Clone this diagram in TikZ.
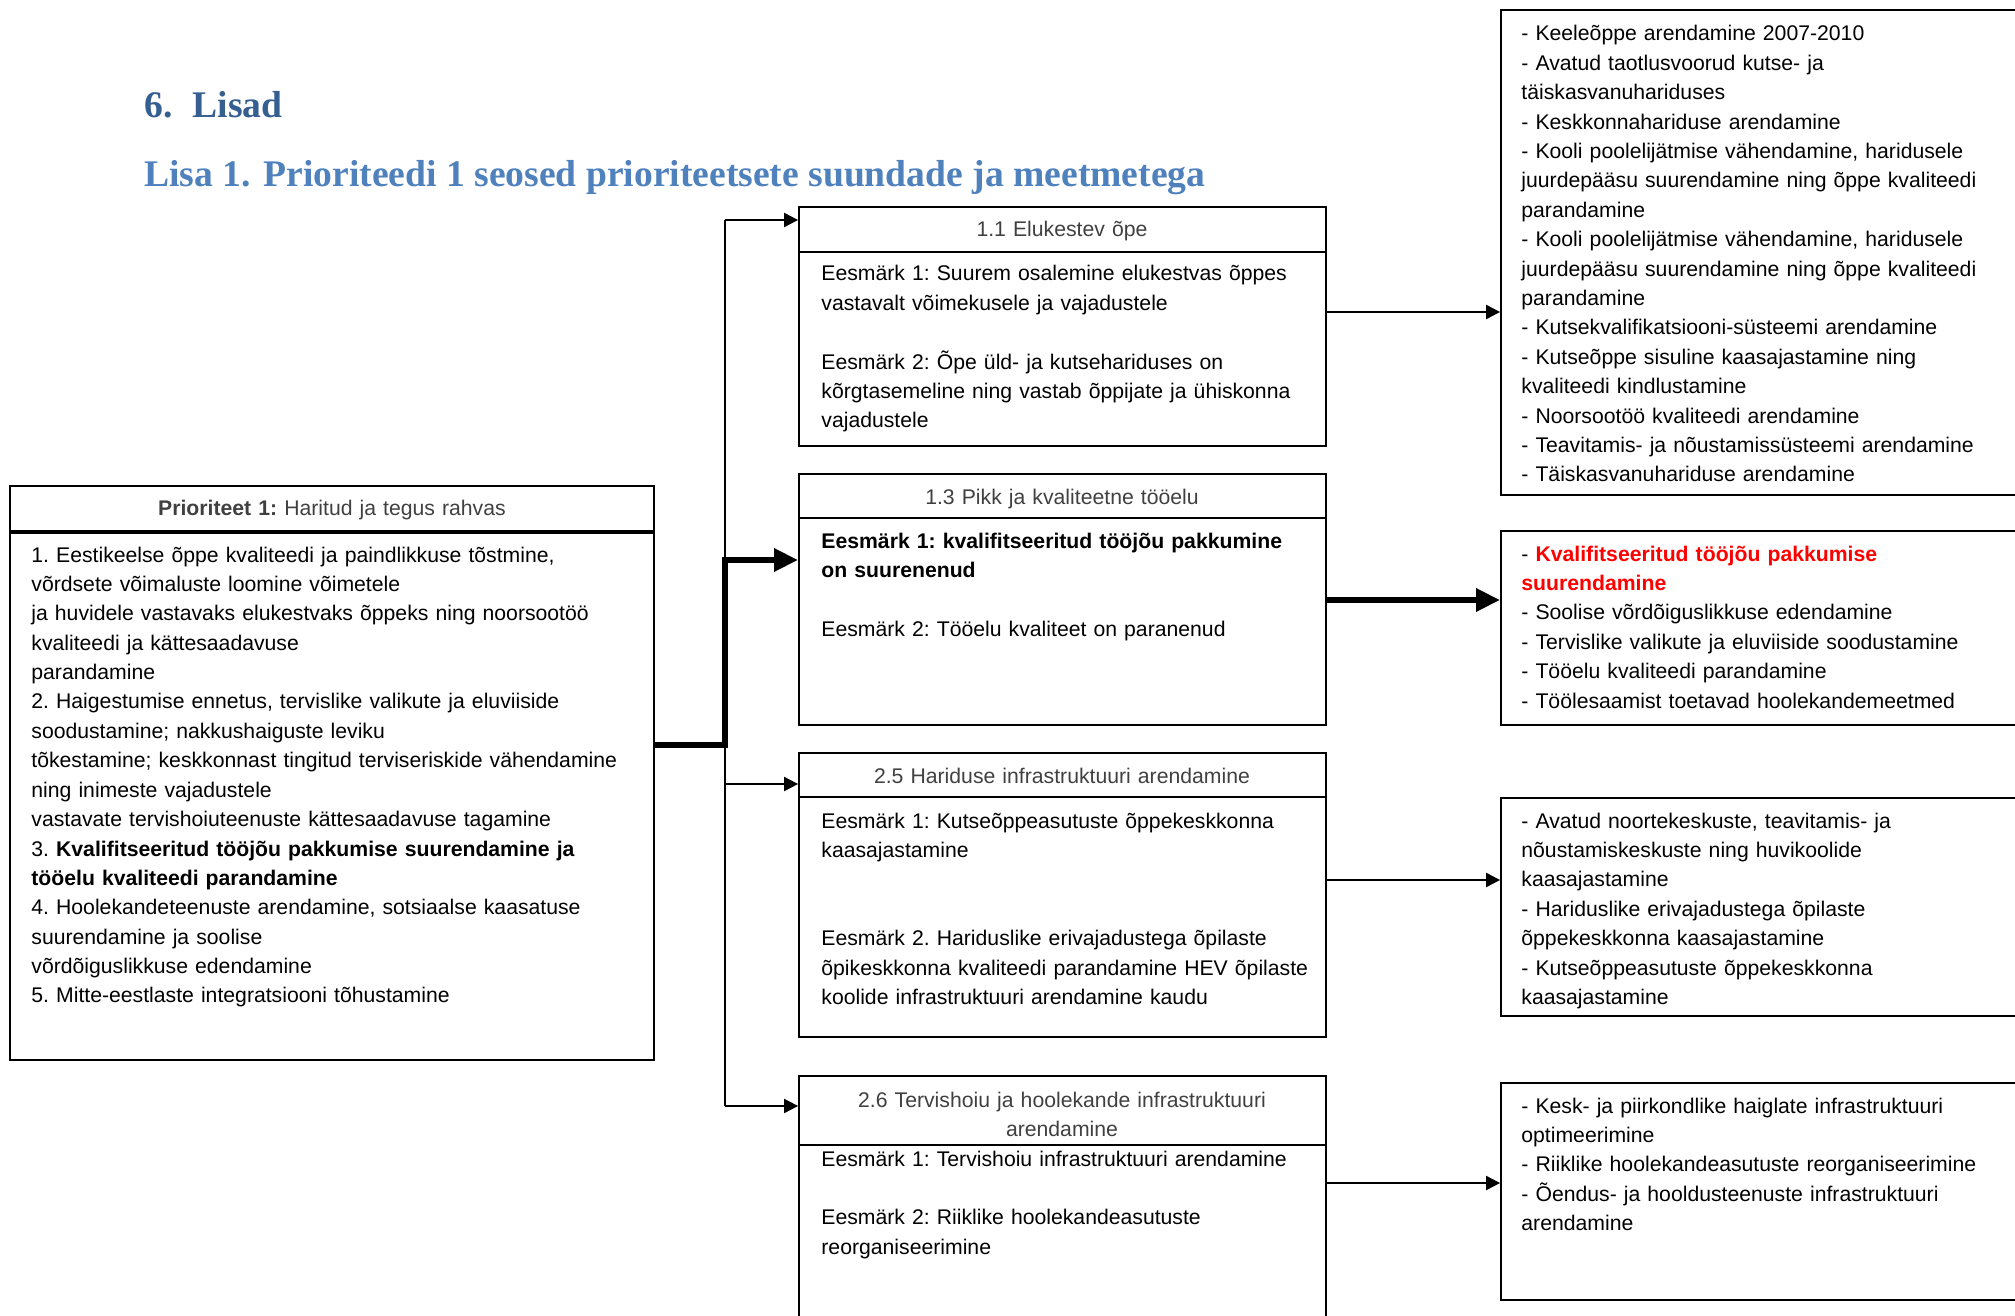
\documentclass[tikz,border=0pt]{standalone}
\usepackage{fontspec}
\setmainfont{Liberation Sans}
\newfontfamily\titlefont{Liberation Serif}
\usetikzlibrary{arrows.meta,fit}
\definecolor{headblue}{RGB}{54,95,145}
\definecolor{subblue}{RGB}{79,129,189}
\definecolor{hdrgray}{RGB}{64,64,64}
\definecolor{markred}{RGB}{255,0,0}
\newcommand{\boxfont}{\fontsize{10.6}{14.7}\selectfont\frenchspacing}

\begin{document}
\begin{tikzpicture}[x=0.5pt,y=-0.5pt,
    frame/.style={draw, line width=0.9pt, inner sep=0pt},
    hdr/.style={anchor=base, inner sep=0pt, font=\boxfont, text=hdrgray, align=center, text width=255pt},
    txt/.style={anchor=base west, inner sep=0pt, align=left, font=\boxfont, text width=255pt},
    arr/.style={-{Triangle[length=7pt,width=7pt]}, line width=1pt},
    fatarr/.style={-{Triangle[length=12pt,width=11pt]}, line width=3pt}]
    \clip (0,0) rectangle (2015,1316);

    % titles
    \node[anchor=base west, inner sep=0pt, text=headblue,
          font=\titlefont\bfseries\fontsize{18.8}{22}\selectfont] (lisad) at (144,118) {6.\hspace{10pt}Lisad};
    \node[anchor=base west, inner sep=0pt, text=subblue,
          font=\titlefont\bfseries\fontsize{18.8}{22}\selectfont] (lisa1) at (144,187) {Lisa 1. Prioriteedi 1 seosed prioriteetsete suundade ja meetmetega};

    % priority box
    \node[frame, fit={(10,486) (654,531)}] (prioh) {};
    \node[frame, fit={(10,531) (654,1060)}] (prio) {};
    \draw[line width=1.8pt] (prioh.south west) -- (prioh.south east);
    \node[hdr, text width=310pt] (prioht) at (332,516) {\textbf{Prioriteet 1:} Haritud ja tegus rahvas};
    \node[txt, text width=310pt] (priot) at (31,562) {1. Eestikeelse õppe kvaliteedi ja paindlikkuse tõstmine,\\
        võrdsete võimaluste loomine võimetele\\
        ja huvidele vastavaks elukestvaks õppeks ning noorsootöö\\
        kvaliteedi ja kättesaadavuse\\
        parandamine\\
        2. Haigestumise ennetus, tervislike valikute ja eluviiside\\
        soodustamine; nakkushaiguste leviku\\
        tõkestamine; keskkonnast tingitud terviseriskide vähendamine\\
        ning inimeste vajadustele\\
        vastavate tervishoiuteenuste kättesaadavuse tagamine\\
        3. \textbf{Kvalifitseeritud tööjõu pakkumise suurendamine ja}\\
        \textbf{tööelu kvaliteedi parandamine}\\
        4. Hoolekandeteenuste arendamine, sotsiaalse kaasatuse\\
        suurendamine ja soolise\\
        võrdõiguslikkuse edendamine\\
        5. Mitte-eestlaste integratsiooni tõhustamine};

    % middle column
    \node[frame, fit={(799,207) (1326,252)}] (m11h) {};
    \node[frame, fit={(799,252) (1326,446)}] (m11) {};
    \node[hdr] (m11ht) at (1062,237) {1.1 Elukestev õpe};
    \node[txt] (m11t) at (821,281) {Eesmärk 1: Suurem osalemine elukestvas õppes\\
        vastavalt võimekusele ja vajadustele\\[14.7pt]
        Eesmärk 2: Õpe üld- ja kutsehariduses on\\
        kõrgtasemeline ning vastab õppijate ja ühiskonna\\
        vajadustele};

    \node[frame, fit={(799,474) (1326,518)}] (m13h) {};
    \node[frame, fit={(799,518) (1326,725)}] (m13) {};
    \node[hdr] (m13ht) at (1062,504) {1.3 Pikk ja kvaliteetne tööelu};
    \node[txt] (m13t) at (821,548) {\textbf{Eesmärk 1: kvalifitseeritud tööjõu pakkumine}\\
        \textbf{on suurenenud}\\[14.7pt]
        Eesmärk 2: Tööelu kvaliteet on paranenud};

    \node[frame, fit={(799,753) (1326,797)}] (m25h) {};
    \node[frame, fit={(799,797) (1326,1037)}] (m25) {};
    \node[hdr] (m25ht) at (1062,783) {2.5 Hariduse infrastruktuuri arendamine};
    \node[txt] (m25t) at (821,828) {Eesmärk 1: Kutseõppeasutuste õppekeskkonna\\
        kaasajastamine\\[29.4pt]
        Eesmärk 2. Hariduslike erivajadustega õpilaste\\
        õpikeskkonna kvaliteedi parandamine HEV õpilaste\\
        koolide infrastruktuuri arendamine kaudu};

    \node[frame, fit={(799,1076) (1326,1145)}] (m26h) {};
    \node[frame, fit={(799,1145) (1326,1340)}] (m26) {};
    \node[hdr] (m26ht) at (1062,1107) {2.6 Tervishoiu ja hoolekande infrastruktuuri\\arendamine};
    \node[txt] (m26t) at (821,1166) {Eesmärk 1: Tervishoiu infrastruktuuri arendamine\\[14.7pt]
        Eesmärk 2: Riiklike hoolekandeasutuste\\
        reorganiseerimine};

    % right column
    \node[frame, fit={(1501,10) (2040,495)}] (r1) {};
    \node[txt, text width=250pt] (r1t) at (1521,41) {- Keeleõppe arendamine 2007-2010\\
        - Avatud taotlusvoorud kutse- ja\\
        täiskasvanuhariduses\\
        - Keskkonnahariduse arendamine\\
        - Kooli poolelijätmise vähendamine, haridusele\\
        juurdepääsu suurendamine ning õppe kvaliteedi\\
        parandamine\\
        - Kooli poolelijätmise vähendamine, haridusele\\
        juurdepääsu suurendamine ning õppe kvaliteedi\\
        parandamine\\
        - Kutsekvalifikatsiooni-süsteemi arendamine\\
        - Kutseõppe sisuline kaasajastamine ning\\
        kvaliteedi kindlustamine\\
        - Noorsootöö kvaliteedi arendamine\\
        - Teavitamis- ja nõustamissüsteemi arendamine\\
        - Täiskasvanuhariduse arendamine};

    \node[frame, fit={(1501,531) (2040,725)}] (r2) {};
    \node[txt, text width=250pt] (r2t) at (1521,561) {- \textcolor{markred}{\textbf{Kvalifitseeritud tööjõu pakkumise}}\\
        \textcolor{markred}{\textbf{suurendamine}}\\
        - Soolise võrdõiguslikkuse edendamine\\
        - Tervislike valikute ja eluviiside soodustamine\\
        - Tööelu kvaliteedi parandamine\\
        - Töölesaamist toetavad hoolekandemeetmed};

    \node[frame, fit={(1501,798) (2040,1016)}] (r3) {};
    \node[txt, text width=250pt] (r3t) at (1521,828) {- Avatud noortekeskuste, teavitamis- ja\\
        nõustamiskeskuste ning huvikoolide\\
        kaasajastamine\\
        - Hariduslike erivajadustega õpilaste\\
        õppekeskkonna kaasajastamine\\
        - Kutseõppeasutuste õppekeskkonna\\
        kaasajastamine};

    \node[frame, fit={(1501,1083) (2040,1300)}] (r4) {};
    \node[txt, text width=250pt] (r4t) at (1521,1113) {- Kesk- ja piirkondlike haiglate infrastruktuuri\\
        optimeerimine\\
        - Riiklike hoolekandeasutuste reorganiseerimine\\
        - Õendus- ja hooldusteenuste infrastruktuuri\\
        arendamine};

    % connectors
    \coordinate (top) at (725,220);
    \coordinate (fat) at (725,560);
    \coordinate (hub) at (725,745);
    \coordinate (mid) at (725,784);
    \coordinate (bot) at (725,1106);
    \draw[line width=1pt] (top) -- (bot);
    \draw[arr] (top) -- (top -| m11h.west);
    \draw[arr] (mid) -- (mid -| m25h.west);
    \draw[arr] (bot) -- (bot -| m26h.west);
    \draw[fatarr] (prio.east |- hub) -- (hub) -- (fat) -- (fat -| m13.west);

    \coordinate (o11) at (1400,312);
    \coordinate (o13) at (1400,600);
    \coordinate (o25) at (1400,880);
    \coordinate (o26) at (1400,1183);
    \draw[arr] (o11 -| m11.east) -- (o11 -| r1.west);
    \draw[fatarr] (o13 -| m13.east) -- (o13 -| r2.west);
    \draw[arr] (o25 -| m25.east) -- (o25 -| r3.west);
    \draw[arr] (o26 -| m26.east) -- (o26 -| r4.west);
\end{tikzpicture}
\end{document}
